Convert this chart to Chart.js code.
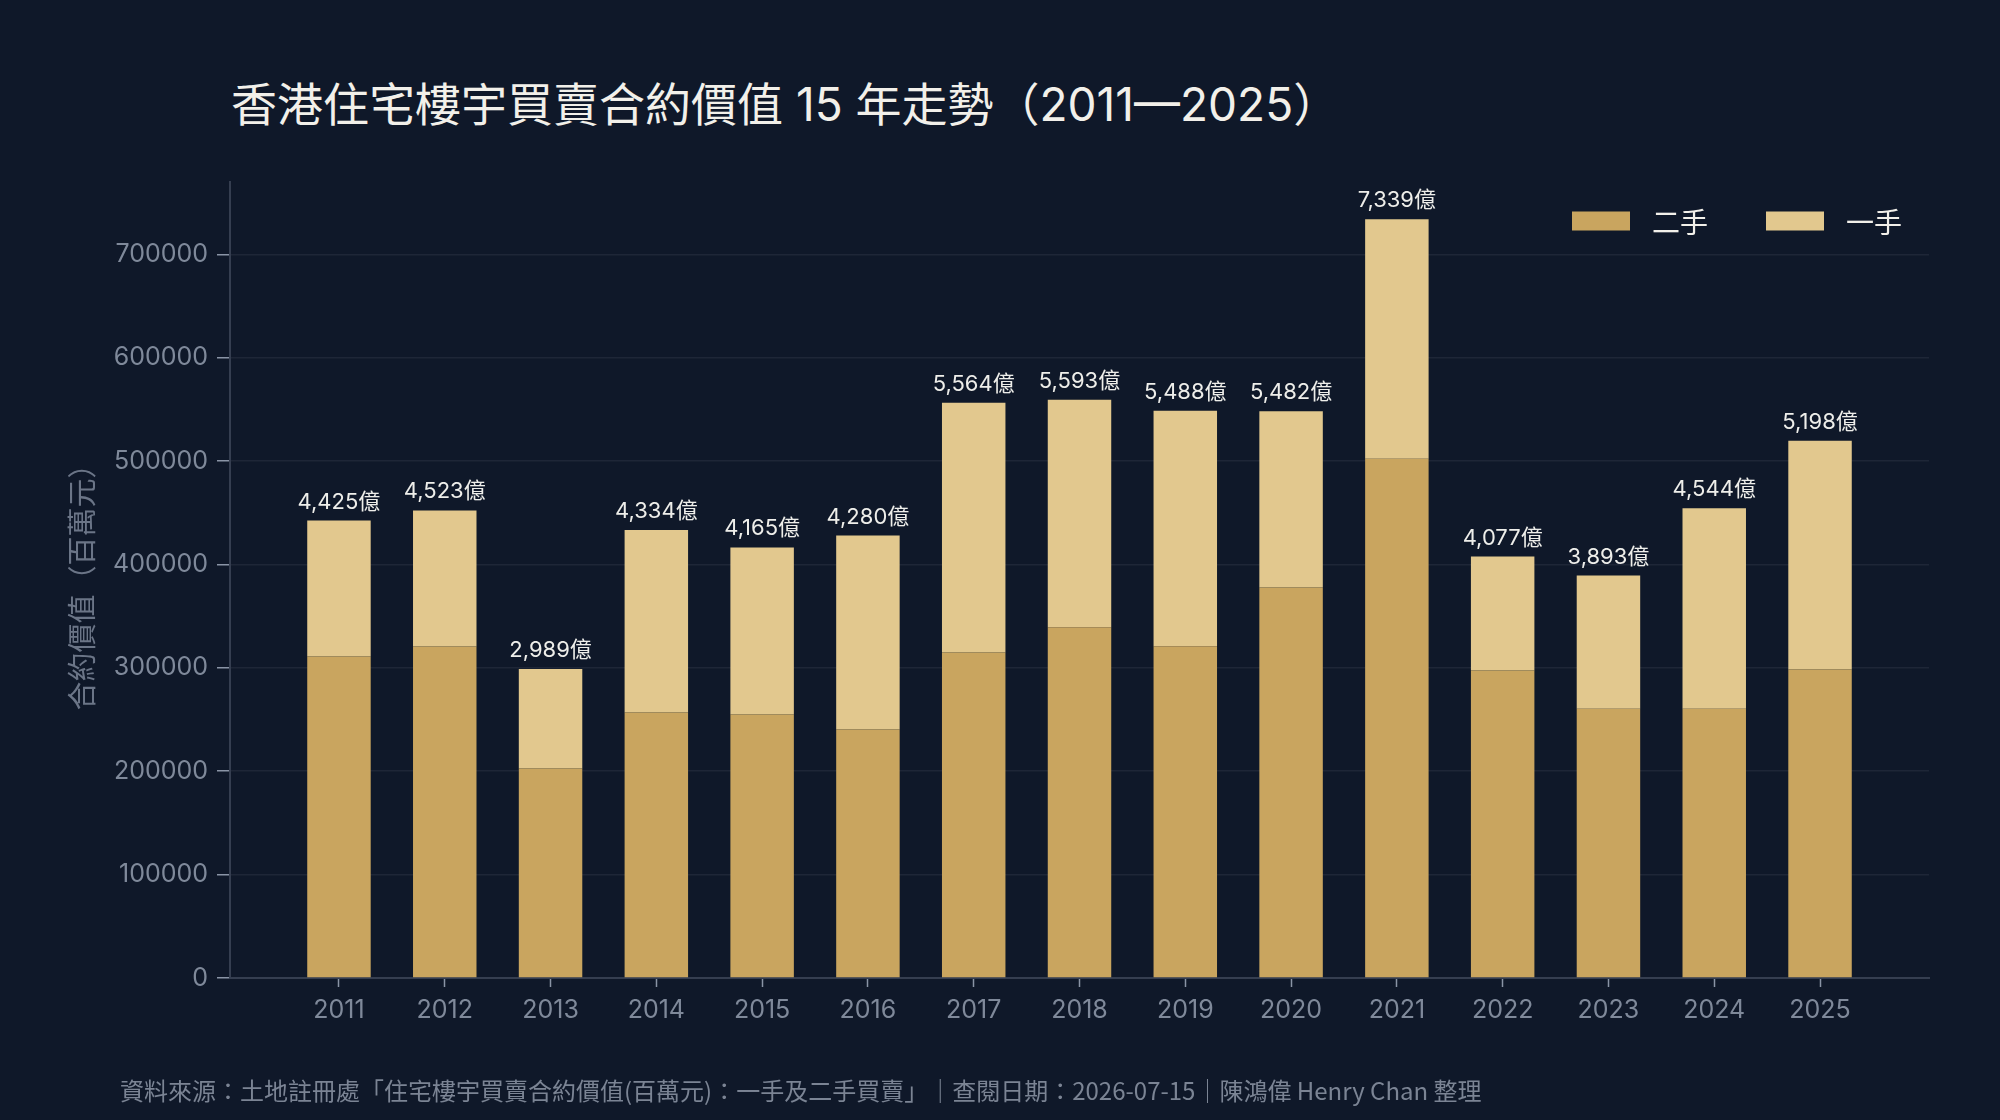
<!DOCTYPE html>
<html lang="zh-Hant">
<head>
<meta charset="utf-8">
<title>香港住宅樓宇買賣合約價值 15 年走勢</title>
<script src="https://cdn.jsdelivr.net/npm/chart.js@4.4.1/dist/chart.umd.min.js"></script>
<style>
    html, body { margin: 0; padding: 0; background: #0f1829; }
    #wrap { position: relative; width: 2000px; height: 1120px; overflow: hidden; background: #0f1829; }
    #chart { position: absolute; left: 0; top: 0; }
    h1 {
        position: absolute; left: 231px; top: 74px; margin: 0;
        font: 400 46px Inter, "Noto Sans CJK TC", sans-serif; line-height: 60px;
        color: #f2f0ea; white-space: nowrap;
    }
    .source {
        position: absolute; left: 120px; top: 1075px;
        font: 400 24px "Noto Sans CJK TC", sans-serif; line-height: 30px;
        color: #7b8494; white-space: nowrap;
    }
</style>
</head>
<body>
<div id="wrap">
    <h1>香港住宅樓宇買賣合約價值 15 年走勢（2011—2025）</h1>
    <canvas id="chart" width="2000" height="1120"></canvas>
    <div class="source">資料來源：土地註冊處「住宅樓宇買賣合約價值(百萬元)：一手及二手買賣」｜查閱日期：2026-07-15｜陳鴻偉 Henry Chan 整理</div>
</div>
<script>
// values in 百萬元
const years = [2011, 2012, 2013, 2014, 2015, 2016, 2017, 2018, 2019, 2020, 2021, 2022, 2023, 2024, 2025];
const secondHand = [310900, 320600, 202600, 256800, 254800, 240300, 314800, 339300, 320900, 377700, 502400, 297400, 260400, 260400, 298400];
const firstHand = [131600, 131700, 96300, 176600, 161700, 187700, 241600, 220000, 227900, 170500, 231500, 110300, 128900, 194000, 221400];
const yTicks = [0, 100000, 200000, 300000, 400000, 500000, 600000, 700000];

const COLOR_SECOND = '#c9a55f';
const COLOR_FIRST = '#e2c88e';
const TICK_FONT = 'Inter, "Noto Sans CJK TC", sans-serif';
const CJK_FONT = '"Noto Sans CJK TC", sans-serif';

// total label above each stacked bar, e.g. 4,425億
const totalLabels = {
    id: 'totalLabels',
    afterDatasetsDraw(chart) {
        const { ctx } = chart;
        const topMeta = chart.getDatasetMeta(1);
        ctx.save();
        ctx.fillStyle = '#eeeeea';
        ctx.font = '22px ' + TICK_FONT;
        ctx.textAlign = 'center';
        ctx.textBaseline = 'alphabetic';
        topMeta.data.forEach((bar, i) => {
            const total = Math.round((secondHand[i] + firstHand[i]) / 100);
            ctx.fillText(total.toLocaleString('en-US') + '億', bar.x, bar.y - 12);
        });
        ctx.restore();
    }
};

// legend drawn inside the plot, top right
const insideLegend = {
    id: 'insideLegend',
    afterDraw(chart) {
        const { ctx, chartArea } = chart;
        const boxW = 58, boxH = 19, textGap = 22, itemGap = 58;
        ctx.save();
        ctx.font = '28px ' + CJK_FONT;
        const items = chart.data.datasets.map(ds => ({
            label: ds.label,
            color: ds.backgroundColor,
            w: ctx.measureText(ds.label).width
        }));
        let total = 0;
        items.forEach((it, i) => { total += boxW + textGap + it.w + (i ? itemGap : 0); });
        let x = chartArea.right - 27 - total;
        const cy = chartArea.top + 39;
        ctx.textBaseline = 'middle';
        ctx.textAlign = 'left';
        items.forEach(it => {
            ctx.fillStyle = it.color;
            ctx.fillRect(x, cy - boxH / 2, boxW, boxH);
            ctx.fillStyle = '#f2f0ea';
            ctx.fillText(it.label, x + boxW + textGap, cy + 1);
            x += boxW + textGap + it.w + itemGap;
        });
        ctx.restore();
    }
};

new Chart(document.getElementById('chart'), {
    type: 'bar',
    data: {
        datasets: [{
            label: '二手',
            data: years.map((y, i) => ({ x: y, y: secondHand[i] })),
            backgroundColor: COLOR_SECOND,
            borderWidth: 0,
            barPercentage: 0.6,
            categoryPercentage: 1
        }, {
            label: '一手',
            data: years.map((y, i) => ({ x: y, y: firstHand[i] })),
            backgroundColor: COLOR_FIRST,
            borderWidth: 0,
            barPercentage: 0.6,
            categoryPercentage: 1
        }]
    },
    options: {
        responsive: false,
        animation: false,
        layout: { padding: { left: 0, top: 182, right: 71, bottom: 0 } },
        plugins: {
            legend: { display: false },
            tooltip: { enabled: false }
        },
        scales: {
            x: {
                type: 'linear',
                stacked: true,
                offset: false,
                min: 2009.97,
                max: 2026.03,
                afterBuildTicks: (scale) => { scale.ticks = years.map(v => ({ value: v })); },
                afterFit: (scale) => { scale.height = 142; },
                grid: { offset: false, drawOnChartArea: false, tickLength: 9, tickColor: '#8a94a6', tickWidth: 1.5 },
                border: { color: '#353e50', width: 2 },
                ticks: {
                    color: '#7f899a',
                    font: { family: TICK_FONT, size: 25 },
                    padding: 8,
                    callback: (v) => String(v)
                }
            },
            y: {
                stacked: true,
                min: 0,
                max: 770000,
                afterBuildTicks: (scale) => { scale.ticks = yTicks.map(v => ({ value: v })); },
                afterFit: (scale) => { scale.width = 230; },
                grid: { color: '#1e2637', lineWidth: 1.5, tickLength: 13, tickColor: '#8a94a6', tickWidth: 1.5 },
                border: { color: '#353e50', width: 2 },
                ticks: {
                    color: '#7f899a',
                    font: { family: TICK_FONT, size: 25 },
                    padding: 9,
                    callback: (v) => String(v)
                },
                title: {
                    display: true,
                    text: '合約價值（百萬元）',
                    color: '#6b7587',
                    font: { family: CJK_FONT, size: 29 },
                    padding: { top: 65, bottom: 0 }
                }
            }
        }
    },
    plugins: [totalLabels, insideLegend]
});
</script>
</body>
</html>
